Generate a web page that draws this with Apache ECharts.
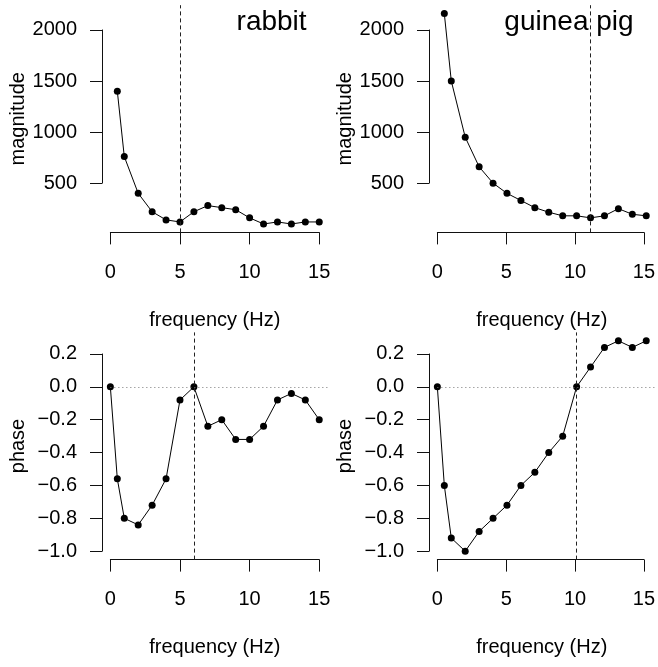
<!DOCTYPE html>
<html><head><meta charset="utf-8">
<script src="https://cdn.jsdelivr.net/npm/echarts@6/dist/echarts.min.js"></script>
<style>html,body{margin:0;padding:0;background:#fff}#c{width:658px;height:667px}</style>
</head><body><div id="c"></div>
<script>
// ---- data ----
const magFreq = [0.5, 1, 2, 3, 4, 5, 6, 7, 8, 9, 10, 11, 12, 13, 14, 15];
const rabbitMag = [1400, 760, 400, 220, 140, 120, 220, 280, 260, 240, 160, 100, 120, 100, 120, 120];
const guineaMag = [2160, 1500, 950, 660, 500, 400, 330, 260, 215, 180, 180, 160, 180, 250, 195, 180];
const phaseFreq = [0, 0.5, 1, 2, 3, 4, 5, 6, 7, 8, 9, 10, 11, 12, 13, 14, 15];
const rabbitPhase = [0, -0.56, -0.80, -0.84, -0.72, -0.56, -0.08, 0, -0.24, -0.20, -0.32, -0.32, -0.24, -0.08, -0.04, -0.08, -0.20];
const guineaPhase = [0, -0.60, -0.92, -1.00, -0.88, -0.80, -0.72, -0.60, -0.52, -0.40, -0.30, 0, 0.12, 0.24, 0.28, 0.24, 0.28];
const freqTicks = [0, 5, 10, 15];
const magTicks = [500, 1000, 1500, 2000];
const phaseTicks = [-1.0, -0.8, -0.6, -0.4, -0.2, 0.0, 0.2];
const animals = ['rabbit', 'guinea pig'];
const magCutoffs = [5, 11];
const phaseCutoffs = [6, 10];

// ---- layout ----
const FONT = '"Liberation Sans", Arial, Helvetica, sans-serif';
const cols = [102, 429], colW = 225.6;
const rows = [5.2, 332.4], rowH = 227.2;
function padRange(vals) {
  const lo = Math.min(...vals), hi = Math.max(...vals), d = (hi - lo) * 0.04;
  return [lo - d, hi + d];
}
const xLim = padRange([...magFreq, ...phaseFreq]);
const magLim = padRange([...rabbitMag, ...guineaMag]);
const phaseLim = padRange([...rabbitPhase, ...guineaPhase]);

const fmtPhase = v => { const s = (Math.round(v * 10) / 10).toFixed(1); return s.replace('-', '\u2212'); };

const panels = [
  { r: 0, c: 0, x: magFreq, y: rabbitMag, ylim: magLim, yTicks: magTicks, yName: 'magnitude', cut: magCutoffs[0], zero: false, title: animals[0], fmt: v => String(v) },
  { r: 0, c: 1, x: magFreq, y: guineaMag, ylim: magLim, yTicks: magTicks, yName: 'magnitude', cut: magCutoffs[1], zero: false, title: animals[1], fmt: v => String(v) },
  { r: 1, c: 0, x: phaseFreq, y: rabbitPhase, ylim: phaseLim, yTicks: phaseTicks, yName: 'phase', cut: phaseCutoffs[0], zero: true, title: null, fmt: fmtPhase },
  { r: 1, c: 1, x: phaseFreq, y: guineaPhase, ylim: phaseLim, yTicks: phaseTicks, yName: 'phase', cut: phaseCutoffs[1], zero: true, title: null, fmt: fmtPhase }
];

const grid = [], xAxis = [], yAxis = [], series = [], graphic = [];
const axisColor = '#111';
const txt = { color: '#000', fontSize: 20, fontFamily: FONT };

panels.forEach(p => {
  const L = cols[p.c], T = rows[p.r], W = colW, H = rowH;
  const gi = grid.length;
  const xr = xLim[1] - xLim[0], yr = p.ylim[1] - p.ylim[0];
  // plot region
  grid.push({ left: L, top: T, width: W, height: H });
  xAxis.push({ gridIndex: gi, type: 'value', min: xLim[0], max: xLim[1],
    axisLine: { show: false }, axisTick: { show: false }, axisLabel: { show: false }, splitLine: { show: false },
    name: 'frequency (Hz)', nameLocation: 'middle', nameGap: 78, nameTextStyle: txt });
  yAxis.push({ gridIndex: gi, type: 'value', min: p.ylim[0], max: p.ylim[1],
    axisLine: { show: false }, axisTick: { show: false }, axisLabel: { show: false }, splitLine: { show: false },
    name: p.yName, nameLocation: 'middle', nameGap: 74, nameTextStyle: txt });
  // x axis (ticks range only)
  const xt0 = freqTicks[0], xt1 = freqTicks[freqTicks.length - 1];
  grid.push({ left: L + (xt0 - xLim[0]) / xr * W, top: T + H - 1, width: (xt1 - xt0) / xr * W, height: 1 });
  xAxis.push({ gridIndex: gi + 1, type: 'value', min: xt0, max: xt1, interval: freqTicks[1] - freqTicks[0],
    axisLine: { show: true, onZero: false, lineStyle: { color: axisColor, width: 1 } },
    axisTick: { show: true, length: 12, lineStyle: { color: axisColor, width: 1 } },
    axisLabel: { show: true, margin: 30, showMinLabel: true, showMaxLabel: true, ...txt },
    splitLine: { show: false } });
  yAxis.push({ gridIndex: gi + 1, type: 'value', show: false });
  // y axis (ticks range only)
  const yt0 = p.yTicks[0], yt1 = p.yTicks[p.yTicks.length - 1];
  grid.push({ left: L, top: T + (p.ylim[1] - yt1) / yr * H, width: 1, height: (yt1 - yt0) / yr * H });
  xAxis.push({ gridIndex: gi + 2, type: 'value', show: false });
  yAxis.push({ gridIndex: gi + 2, type: 'value', min: yt0, max: yt1, interval: p.yTicks[1] - p.yTicks[0],
    axisLine: { show: true, onZero: false, lineStyle: { color: axisColor, width: 1 } },
    axisTick: { show: true, length: 12, lineStyle: { color: axisColor, width: 1 } },
    axisLabel: { show: true, margin: 25, showMinLabel: true, showMaxLabel: true, formatter: p.fmt, ...txt },
    splitLine: { show: false } });

  const mlData = [{ xAxis: p.cut, lineStyle: { type: [4, 3], color: '#222', width: 1 } }];
  if (p.zero) {
    mlData.push([{ coord: [freqTicks[0], 0], lineStyle: { type: [1, 3], color: '#777', width: 1 } }, { coord: [xLim[1], 0] }]);
  }
  series.push({
    type: 'line', xAxisIndex: gi, yAxisIndex: gi,
    data: p.x.map((v, i) => [v, p.y[i]]),
    symbol: 'circle', symbolSize: 7, showSymbol: true,
    itemStyle: { color: '#000' }, lineStyle: { color: '#000', width: 1 },
    emphasis: { disabled: true },
    markLine: { silent: true, symbol: 'none', label: { show: false }, emphasis: { disabled: true }, animation: false, data: mlData },
    z: 3
  });
  if (p.title) {
    graphic.push({ type: 'text', x: L + W - 21, y: T + 17,
      style: { text: p.title, fontSize: 28, fontFamily: FONT, fill: '#000', align: 'right', verticalAlign: 'middle' } });
  }
});

const chart = echarts.init(document.getElementById('c'), null, { renderer: 'canvas' });
chart.setOption({ animation: false, backgroundColor: '#fff', grid, xAxis, yAxis, series, graphic });
</script>
</body></html>
